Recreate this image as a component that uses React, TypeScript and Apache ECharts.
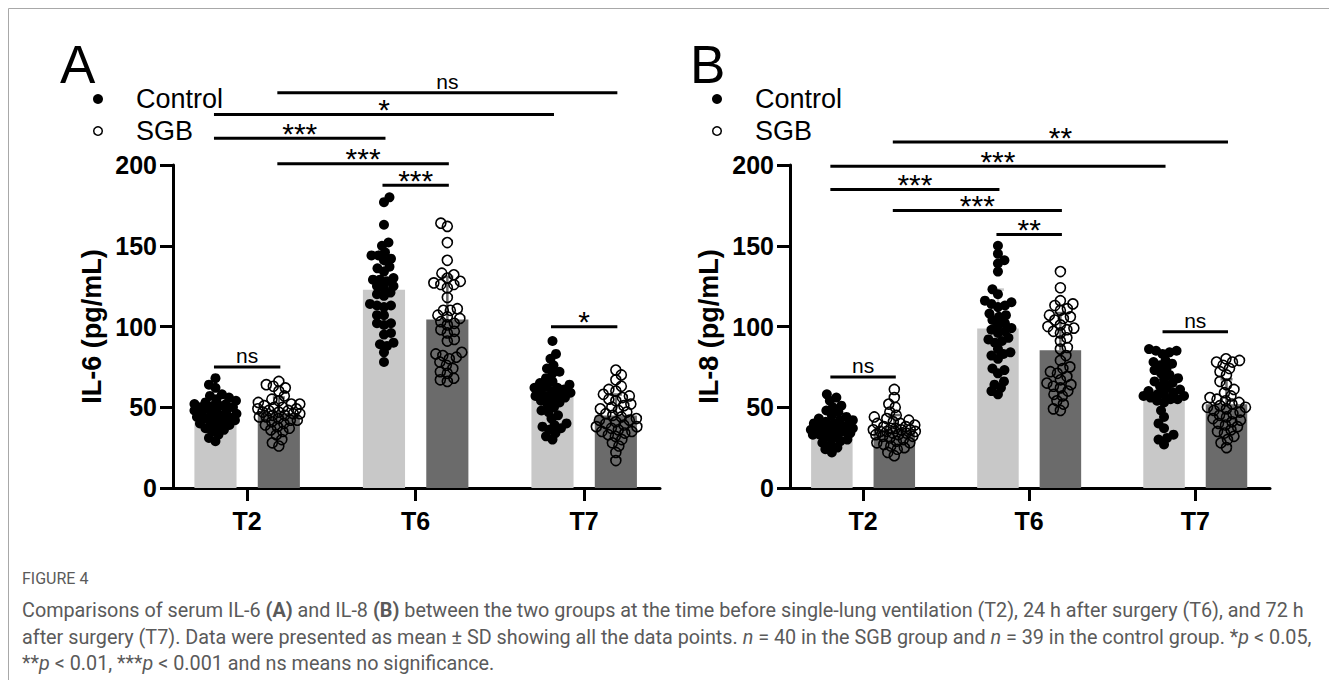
import React, { useEffect, useRef } from "react";
import * as echarts from "echarts";

// ---------------- DATA ----------------
const timePoints = ["T2", "T6", "T7"];
const groupNames = ["Control", "SGB"];
const yTicks = [0, 50, 100, 150, 200];

// Panel A: IL-6 (pg/mL)
const il6ControlT2 = [68, 64, 62, 58, 57, 56, 55, 54, 53, 52, 52, 51, 51, 50, 50, 49, 48, 48, 47, 46, 46, 45, 45, 44, 44, 43, 42, 42, 41, 40, 40, 39, 38, 37, 36, 35, 33, 31, 29];
const il6SgbT2 = [66, 64, 63, 62, 60, 57, 55, 54, 53, 52, 52, 51, 50, 50, 49, 49, 48, 48, 47, 47, 46, 46, 45, 45, 44, 44, 43, 42, 42, 41, 40, 39, 38, 37, 36, 35, 33, 30, 28, 26];
const il6ControlT6 = [180, 177, 163, 152, 150, 146, 144, 144, 142, 141, 137, 136, 134, 130, 129, 129, 128, 125, 125, 124, 121, 120, 119, 114, 113, 113, 112, 107, 107, 102, 102, 101, 96, 95, 90, 89, 88, 84, 78];
const il6SgbT6 = [164, 162, 152, 141, 133, 132, 130, 128, 127, 126, 126, 124, 118, 111, 110, 110, 107, 106, 105, 103, 102, 101, 98, 97, 96, 92, 91, 84, 83, 82, 81, 80, 78, 76, 74, 72, 71, 68, 67, 66];
const il6ControlT7 = [91, 83, 80, 76, 74, 72, 71, 68, 66, 65, 64, 63, 62, 62, 61, 60, 60, 59, 58, 57, 57, 56, 55, 54, 53, 52, 50, 48, 47, 45, 43, 40, 39, 38, 37, 36, 34, 32, 30];
const il6SgbT7 = [73, 70, 67, 63, 61, 60, 58, 57, 56, 55, 54, 52, 51, 50, 49, 48, 47, 46, 45, 44, 43, 42, 42, 41, 40, 39, 38, 38, 37, 36, 35, 35, 34, 33, 32, 30, 28, 26, 22, 17];

// Panel B: IL-8 (pg/mL)
const il8ControlT2 = [58, 56, 54, 51, 50, 48, 47, 45, 44, 43, 42, 42, 41, 40, 40, 39, 39, 38, 38, 37, 37, 36, 36, 36, 35, 35, 34, 34, 33, 33, 32, 31, 30, 29, 28, 27, 25, 24, 22];
const il8SgbT2 = [61, 56, 52, 50, 47, 45, 44, 43, 42, 41, 40, 40, 39, 38, 38, 37, 37, 36, 36, 36, 35, 35, 35, 34, 34, 33, 33, 32, 32, 31, 30, 29, 28, 28, 27, 26, 25, 24, 22, 20];
const il8ControlT6 = [150, 145, 141, 139, 134, 123, 120, 116, 115, 114, 113, 112, 108, 107, 106, 104, 102, 101, 99, 98, 97, 96, 93, 92, 91, 90, 86, 84, 83, 82, 80, 74, 73, 71, 66, 64, 62, 60, 58];
const il8SgbT6 = [134, 124, 116, 114, 113, 111, 110, 107, 106, 105, 104, 101, 100, 99, 98, 97, 96, 93, 91, 87, 86, 82, 79, 75, 74, 72, 71, 69, 67, 65, 64, 63, 62, 60, 58, 57, 54, 52, 49, 48];
const il8ControlT7 = [86, 85, 85, 84, 83, 79, 78, 77, 76, 74, 73, 71, 70, 68, 67, 66, 65, 63, 62, 61, 60, 59, 58, 58, 57, 57, 56, 55, 55, 54, 53, 48, 44, 40, 37, 33, 31, 30, 27];
const il8SgbT7 = [80, 79, 78, 78, 76, 74, 72, 70, 66, 64, 61, 59, 57, 56, 55, 54, 53, 52, 51, 50, 50, 49, 48, 47, 46, 45, 44, 43, 42, 41, 40, 39, 38, 36, 35, 34, 32, 30, 28, 25];

// significance comparisons: [timeIdx, groupIdx] -> [timeIdx, groupIdx], bracket level (pg/mL), label
const il6Comparisons: [number, number, number, number, number, string][] = [
  [0, 1, 2, 1, 244.7, "ns"],
  [0, 0, 2, 0, 231.3, "*"],
  [0, 0, 1, 0, 216.6, "***"],
  [0, 1, 1, 1, 200.8, "***"],
  [1, 0, 1, 1, 187.4, "***"],
  [0, 0, 0, 1, 75, "ns"],
  [2, 0, 2, 1, 99.8, "*"],
];
const il8Comparisons: [number, number, number, number, number, string][] = [
  [0, 1, 2, 1, 214.2, "**"],
  [0, 0, 2, 0, 199.3, "***"],
  [0, 0, 1, 0, 184.9, "***"],
  [0, 1, 1, 1, 171.9, "***"],
  [1, 0, 1, 1, 156.9, "**"],
  [0, 0, 0, 1, 68.8, "ns"],
  [2, 0, 2, 1, 96.7, "ns"],
];

const captionTitle = "FIGURE 4";
const captionLines = [
  "Comparisons of serum IL-6 {b|(A)} and IL-8 {b|(B)} between the two groups at the time before single-lung ventilation (T2), 24 h after surgery (T6), and 72 h",
  "after surgery (T7). Data were presented as mean ± SD showing all the data points. {i|n} = 40 in the SGB group and {i|n} = 39 in the control group. *{i|p} < 0.05,",
  "**{i|p} < 0.01, ***{i|p} < 0.001 and ns means no significance.",
];

// ---------------- LAYOUT / STYLE ----------------
const W = 1329;
const H = 680;
const AX_FONT = "'Liberation Sans', Arial, sans-serif";
const CAP_FONT = "Roboto, 'Noto Sans', sans-serif";
const CAP_SIZE = 19.8;
const CAP_COLOR = "#5a5a5a";
const X_MIN = -0.44;
const X_MAX = 2.45;
const GROUP_OFFSET = 0.188;
const BAR_W = 0.25;
const BAR_COLORS = ["#c8c8c8", "#6b6b6b"];
const DOT = 10;
const SWARM_D = 7;
const SWARM_HALF = 21;

const panels = [
  {
    letter: "A",
    yName: "IL-6 (pg/mL)",
    data: [
      [il6ControlT2, il6SgbT2],
      [il6ControlT6, il6SgbT6],
      [il6ControlT7, il6SgbT7],
    ],
    comps: il6Comparisons,
    grid: { left: 173, right: W - 660, top: 165, bottom: H - 488 },
    letterX: 60,
    legendX: 98,
  },
  {
    letter: "B",
    yName: "IL-8 (pg/mL)",
    data: [
      [il8ControlT2, il8SgbT2],
      [il8ControlT6, il8SgbT6],
      [il8ControlT7, il8SgbT7],
    ],
    comps: il8Comparisons,
    grid: { left: 790, right: W - 1270, top: 165, bottom: H - 488 },
    letterX: 690,
    legendX: 717,
  },
];

function mean(a: number[]) {
  return a.reduce((s, v) => s + v, 0) / a.length;
}
function sd(a: number[]) {
  const m = mean(a);
  return Math.sqrt(a.reduce((s, v) => s + (v - m) * (v - m), 0) / (a.length - 1));
}

// deterministic beeswarm layout (pixel offsets) from values, limited half-width
function beeswarm(values: number[], yPx: number, D: number, half: number): number[] {
  const order = values.map((_, i) => i).sort((a, b) => values[a] - values[b]);
  const placed: { x: number; y: number }[] = [];
  const out = new Array(values.length).fill(0);
  let flip = 1;
  for (const i of order) {
    const y = values[i] * yPx;
    const near = placed.filter((p) => Math.abs(p.y - y) < D);
    const minDist = (c: number) =>
      near.reduce((m, p) => Math.min(m, Math.hypot(p.x - c, p.y - y)), Infinity);
    const cands: number[] = [];
    for (let k = 0; k <= half; k += 0.5) {
      if (k === 0) cands.push(0);
      else cands.push(k * flip, -k * flip);
    }
    let chosen: number | null = null;
    for (const c of cands) {
      if (minDist(c) >= D) {
        chosen = c;
        break;
      }
    }
    if (chosen === null) {
      let best = 0;
      let bestD = -1;
      for (const c of cands) {
        const d = minDist(c);
        if (d > bestD + 1e-9) {
          bestD = d;
          best = c;
        }
      }
      chosen = best;
    }
    flip = -flip;
    placed.push({ x: chosen, y });
    out[i] = chosen;
  }
  return out;
}

function buildOption() {
  const grids: any[] = [];
  const xAxes: any[] = [];
  const yAxes: any[] = [];
  const series: any[] = [];
  const graphics: any[] = [];

  panels.forEach((p, pi) => {
    grids.push({ ...p.grid, outerBoundsMode: "none", containLabel: false });
    const gridW = W - p.grid.left - p.grid.right;
    const gridH = H - p.grid.top - p.grid.bottom;
    const xPx = gridW / (X_MAX - X_MIN);
    const yPx = gridH / 200;

    xAxes.push({
      type: "value",
      gridIndex: pi,
      min: X_MIN,
      max: X_MAX,
      axisLine: { show: true, onZero: false, lineStyle: { color: "#000", width: 3 } },
      axisTick: { show: true, customValues: [0, 1, 2], length: 13, lineStyle: { color: "#000", width: 3 } },
      axisLabel: {
        show: true,
        customValues: [0, 1, 2],
        formatter: (v: number) => timePoints[Math.round(v)],
        fontFamily: AX_FONT,
        fontWeight: "bold",
        fontSize: 25,
        color: "#000",
        margin: 20,
      },
      splitLine: { show: false },
    });
    yAxes.push({
      type: "value",
      gridIndex: pi,
      min: yTicks[0],
      max: yTicks[yTicks.length - 1],
      interval: yTicks[1] - yTicks[0],
      name: p.yName,
      nameLocation: "middle",
      nameGap: 68,
      nameTextStyle: { fontFamily: AX_FONT, fontWeight: "bold", fontSize: 27, color: "#000" },
      axisLine: { show: true, onZero: false, lineStyle: { color: "#000", width: 3 } },
      axisTick: { show: true, length: 13, lineStyle: { color: "#000", width: 3 } },
      axisLabel: { fontFamily: AX_FONT, fontWeight: "bold", fontSize: 25, color: "#000", margin: 16 },
      splitLine: { show: false },
    });

    const barData: number[][] = [];
    const errData: number[][] = [];
    const pts: number[][][] = [[], []];
    p.data.forEach((pair, ti) => {
      pair.forEach((vals, gi) => {
        const xc = ti + (gi === 0 ? -GROUP_OFFSET : GROUP_OFFSET);
        const m = mean(vals);
        barData.push([xc, m, gi]);
        errData.push([xc, m, sd(vals), gi]);
        const offs = beeswarm(vals, yPx, SWARM_D, SWARM_HALF);
        vals.forEach((v, k) => pts[gi].push([xc + offs[k] / xPx, v]));
      });
    });

    series.push({
      type: "custom",
      xAxisIndex: pi,
      yAxisIndex: pi,
      z: 1,
      data: barData,
      renderItem: (_params: any, api: any) => {
        const x = api.value(0);
        const m = api.value(1);
        const g = api.value(2);
        const p0 = api.coord([x, 0]);
        const p1 = api.coord([x, m]);
        const w = api.size([BAR_W, 0])[0];
        return {
          type: "rect",
          shape: { x: p0[0] - w / 2, y: p1[1], width: w, height: p0[1] - p1[1] },
          style: { fill: BAR_COLORS[g] },
        };
      },
    });
    series.push({
      type: "custom",
      xAxisIndex: pi,
      yAxisIndex: pi,
      z: 2,
      data: errData,
      renderItem: (_params: any, api: any) => {
        const x = api.value(0);
        const m = api.value(1);
        const s = api.value(2);
        const g = api.value(3);
        const a = api.coord([x, m]);
        const b = api.coord([x, m + s]);
        return {
          type: "group",
          children: [
            { type: "line", shape: { x1: a[0], y1: a[1], x2: b[0], y2: b[1] }, style: { stroke: BAR_COLORS[g], lineWidth: 2.5 } },
            { type: "line", shape: { x1: b[0] - 6, y1: b[1], x2: b[0] + 6, y2: b[1] }, style: { stroke: BAR_COLORS[g], lineWidth: 2.5 } },
          ],
        };
      },
    });
    series.push({
      type: "scatter",
      name: groupNames[0],
      xAxisIndex: pi,
      yAxisIndex: pi,
      z: 3,
      symbol: "circle",
      symbolSize: DOT,
      data: pts[0],
      itemStyle: { color: "#000", opacity: 1 },
      emphasis: { disabled: true },
    });
    series.push({
      type: "scatter",
      name: groupNames[1],
      xAxisIndex: pi,
      yAxisIndex: pi,
      z: 4,
      symbol: "circle",
      symbolSize: DOT,
      data: pts[1],
      itemStyle: { color: "rgba(0,0,0,0)", borderColor: "#000", borderWidth: 1.6, opacity: 1 },
      emphasis: { disabled: true },
    });
    const comps = p.comps;
    series.push({
      type: "custom",
      xAxisIndex: pi,
      yAxisIndex: pi,
      z: 5,
      clip: false,
      data: comps.map((c) => [c[0] + (c[1] === 0 ? -GROUP_OFFSET : GROUP_OFFSET), c[2] + (c[3] === 0 ? -GROUP_OFFSET : GROUP_OFFSET), c[4]]),
      renderItem: (params: any, api: any) => {
        const c = comps[params.dataIndex];
        const a = api.coord([api.value(0), api.value(2)]);
        const b = api.coord([api.value(1), api.value(2)]);
        const label = c[5];
        const isNs = label === "ns";
        return {
          type: "group",
          children: [
            { type: "line", shape: { x1: a[0] - 1.5, y1: a[1], x2: b[0] + 1.5, y2: b[1] }, style: { stroke: "#000", lineWidth: 3 } },
            {
              type: "text",
              x: (a[0] + b[0]) / 2,
              y: a[1] - (isNs ? 11 : 5),
              style: {
                text: label,
                fontFamily: AX_FONT,
                fontSize: isNs ? 21 : 30,
                fill: "#000",
                align: "center",
                verticalAlign: "middle",
              },
            },
          ],
        };
      },
    });

    // panel letter and legend
    graphics.push({
      type: "text",
      left: p.letterX,
      top: 38,
      style: { text: p.letter, fontFamily: AX_FONT, fontSize: 53, fill: "#000" },
    });
    graphics.push({ type: "circle", shape: { cx: p.legendX, cy: 99, r: 5 }, style: { fill: "#000" } });
    graphics.push({ type: "circle", shape: { cx: p.legendX, cy: 131, r: 4.3 }, style: { fill: "none", stroke: "#000", lineWidth: 1.5 } });
    graphics.push({
      type: "text",
      x: p.legendX + 38,
      y: 99,
      style: { text: groupNames[0], fontFamily: AX_FONT, fontSize: 27, fill: "#000", verticalAlign: "middle" },
    });
    graphics.push({
      type: "text",
      x: p.legendX + 38,
      y: 131,
      style: { text: groupNames[1], fontFamily: AX_FONT, fontSize: 27, fill: "#000", verticalAlign: "middle" },
    });
  });

  // frame
  graphics.push({
    type: "rect",
    shape: { x: 8.5, y: 8.5, width: W, height: H },
    style: { fill: "none", stroke: "#a8a8a8", lineWidth: 1 },
  });
  // caption
  graphics.push({
    type: "text",
    x: 22,
    y: 578,
    style: { text: captionTitle, fontFamily: CAP_FONT, fontSize: 16, fill: CAP_COLOR, verticalAlign: "middle" },
  });
  const capY = [610, 637, 663];
  captionLines.forEach((line, i) => {
    graphics.push({
      type: "text",
      x: 22,
      y: capY[i],
      style: {
        text: line,
        fontFamily: CAP_FONT,
        fontSize: CAP_SIZE,
        fill: CAP_COLOR,
        verticalAlign: "middle",
        rich: {
          b: { fontFamily: CAP_FONT, fontSize: CAP_SIZE, fontWeight: "bold", fill: CAP_COLOR },
          i: { fontFamily: CAP_FONT, fontSize: CAP_SIZE, fontStyle: "italic", fill: CAP_COLOR },
        },
      },
    });
  });

  return {
    animation: false,
    backgroundColor: "#fff",
    grid: grids,
    xAxis: xAxes,
    yAxis: yAxes,
    series,
    graphic: graphics,
  };
}

export default function App() {
  const ref = useRef<HTMLDivElement>(null);
  useEffect(() => {
    if (!ref.current) return;
    const chart = echarts.init(ref.current, undefined, { renderer: "svg" });
    chart.setOption(buildOption() as any);
    return () => chart.dispose();
  }, []);
  return (
    <div
      ref={ref}
      style={{ position: "fixed", left: 0, top: 0, width: W, height: H, background: "#fff" }}
    />
  );
}
